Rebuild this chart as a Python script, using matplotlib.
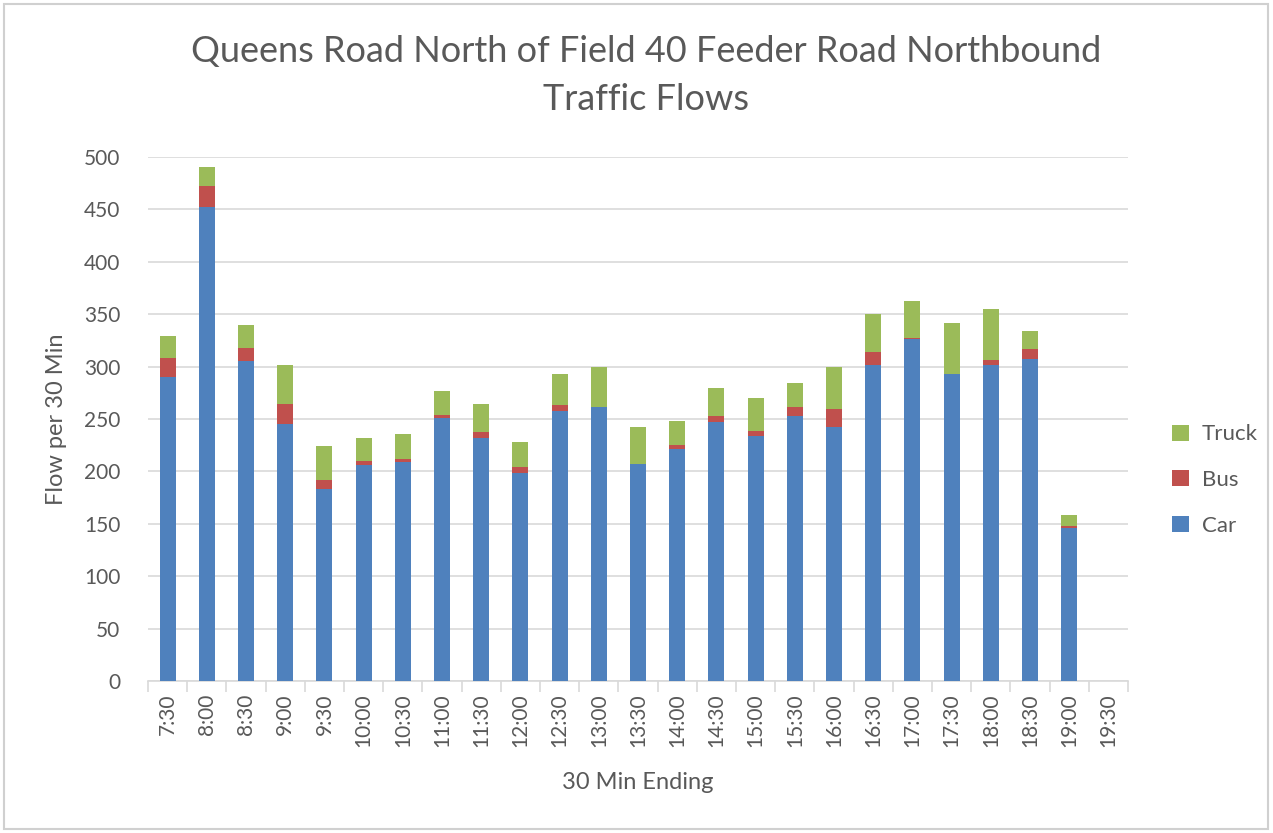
import matplotlib.pyplot as plt
import numpy as np
from matplotlib.patches import Rectangle

times = ['7:30', '8:00', '8:30', '9:00', '9:30', '10:00', '10:30', '11:00',
         '11:30', '12:00', '12:30', '13:00', '13:30', '14:00', '14:30',
         '15:00', '15:30', '16:00', '16:30', '17:00', '17:30', '18:00',
         '18:30', '19:00', '19:30']
car = [290, 452, 305, 245, 183, 206, 209, 251, 232, 198, 258, 261, 207,
       221, 247, 234, 253, 242, 302, 326, 293, 302, 307, 146, 0]
bus = [18, 20, 13, 19, 9, 4, 3, 3, 6, 6, 5, 0, 0, 4, 6, 5, 8, 18, 12, 1,
       0, 4, 10, 2, 0]
truck = [21, 18, 22, 38, 32, 22, 24, 23, 26, 24, 30, 39, 35, 23, 27, 31,
         23, 40, 36, 36, 49, 49, 17, 10, 0]

plt.rcParams['font.family'] = ['Lato', 'DejaVu Sans']
text_col = '#595959'
grid_col = '#D9D9D9'

fig = plt.figure(figsize=(12.73, 8.33), dpi=100)
ax = fig.add_axes([148 / 1273, 152 / 833, 980 / 1273, 524 / 833])

x = np.arange(len(times))
w = 0.41
car_a = np.array(car)
bus_a = np.array(bus)
truck_a = np.array(truck)
ax.bar(x, car_a, w, color='#4F81BD', label='Car', zorder=3)
ax.bar(x, bus_a, w, bottom=car_a, color='#C0504D', label='Bus', zorder=3)
ax.bar(x, truck_a, w, bottom=car_a + bus_a, color='#9BBB59', label='Truck',
       zorder=3)

ax.set_xlim(-0.5, len(times) - 0.5)
ax.set_ylim(0, 500)
ax.set_yticks(range(0, 501, 50))
ax.yaxis.grid(True, color=grid_col, linewidth=1.2, zorder=0)
for s in ['top', 'right', 'left']:
    ax.spines[s].set_visible(False)
ax.spines['bottom'].set_color(grid_col)
ax.spines['bottom'].set_linewidth(1.2)

ax.set_xticks(x)
ax.set_xticklabels(times, rotation=90, fontsize=15, color=text_col)
ax.tick_params(axis='x', length=0, pad=9)
ax.set_xticks(np.arange(-0.5, len(times)), minor=True)
ax.tick_params(axis='x', which='minor', length=8, color=grid_col, width=1.2)
ax.tick_params(axis='y', length=0, labelsize=15, labelcolor=text_col, pad=20)

ax.set_xlabel('30 Min Ending', fontsize=17, color=text_col, labelpad=18)
ax.set_ylabel('Flow per 30 Min', fontsize=17, color=text_col, labelpad=12)

fig.text(646 / 1273, 1 - 35 / 833,
         'Queens Road North of Field 40 Feeder Road Northbound\nTraffic Flows',
         ha='center', va='top', fontsize=26, color=text_col,
         linespacing=1.55)

handles, labels = ax.get_legend_handles_labels()
leg = fig.legend(handles[::-1], labels[::-1], loc='center left',
                 bbox_to_anchor=(1152 / 1273, 1 - 480 / 833), frameon=False,
                 fontsize=16, handlelength=0.75, handleheight=0.75,
                 labelspacing=1.15, handletextpad=0.6)
for t in leg.get_texts():
    t.set_color(text_col)

fig.patches.append(Rectangle((4 / 1273, 4 / 833), 1264 / 1273, 825 / 833,
                             transform=fig.transFigure, fill=False,
                             edgecolor='#D0D0D0', linewidth=1.5))

fig.savefig('out.png', dpi=100)
